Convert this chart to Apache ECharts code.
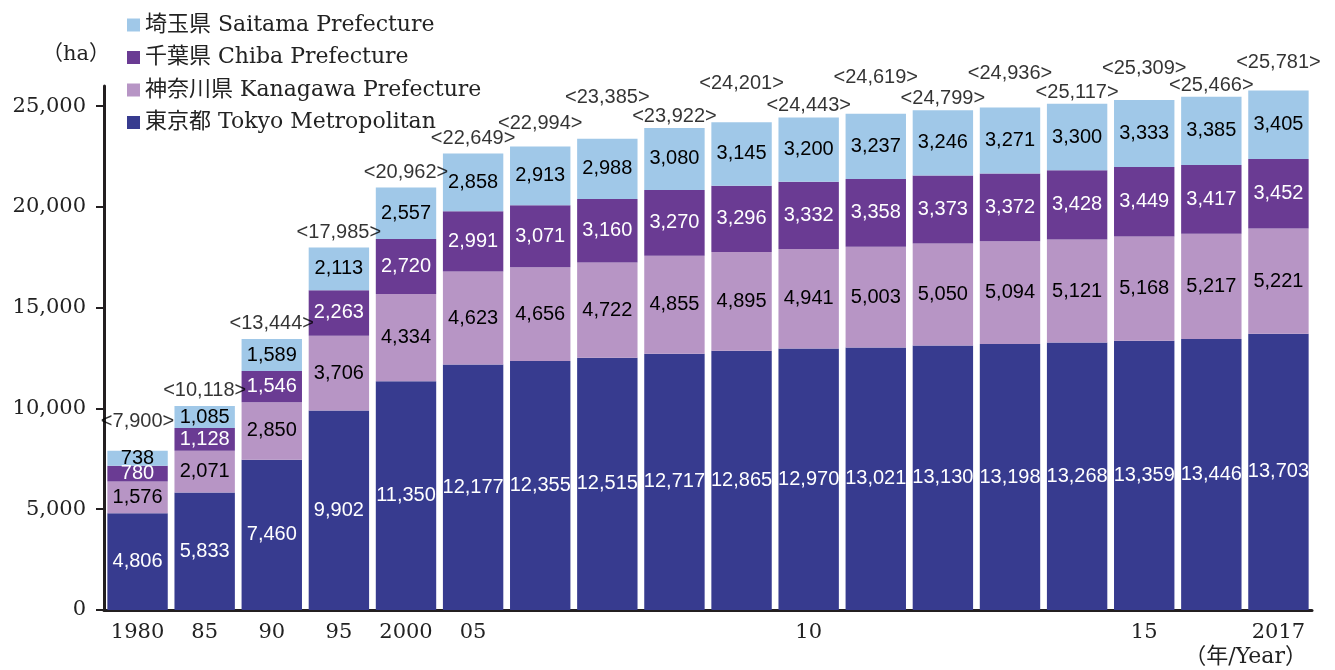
<!DOCTYPE html>
<html>
<head>
<meta charset="utf-8">
<script src="https://cdn.jsdelivr.net/npm/echarts@6/dist/echarts.min.js"></script>
<style>
  html, body { margin: 0; padding: 0; background: #fff; }
  #main { width: 1335px; height: 670px; }
</style>
</head>
<body>
<div id="main"></div>
<script>
// 年次（1980, 85, 90, 95, 2000, 05〜2017）
var years = ['1980', '1985', '1990', '1995', '2000', '2005', '2006', '2007', '2008', '2009',
             '2010', '2011', '2012', '2013', '2014', '2015', '2016', '2017'];
var xTickLabels = ['1980', '85', '90', '95', '2000', '05', '', '', '', '',
                   '10', '', '', '', '', '15', '', '2017'];
var yTickValues = [0, 5000, 10000, 15000, 20000, 25000];

var tokyo    = [4806, 5833, 7460, 9902, 11350, 12177, 12355, 12515, 12717, 12865, 12970, 13021, 13130, 13198, 13268, 13359, 13446, 13703];
var kanagawa = [1576, 2071, 2850, 3706, 4334, 4623, 4656, 4722, 4855, 4895, 4941, 5003, 5050, 5094, 5121, 5168, 5217, 5221];
var chiba    = [780, 1128, 1546, 2263, 2720, 2991, 3071, 3160, 3270, 3296, 3332, 3358, 3373, 3372, 3428, 3449, 3417, 3452];
var saitama  = [738, 1085, 1589, 2113, 2557, 2858, 2913, 2988, 3080, 3145, 3200, 3237, 3246, 3271, 3300, 3333, 3385, 3405];
var totals   = [7900, 10118, 13444, 17985, 20962, 22649, 22994, 23385, 23922, 24201, 24443, 24619, 24799, 24936, 25117, 25309, 25466, 25781];

var names = ['東京都 Tokyo Metropolitan', '神奈川県 Kanagawa Prefecture', '千葉県 Chiba Prefecture', '埼玉県 Saitama Prefecture'];

var serif = '"DejaVu Serif", "Noto Sans CJK JP", serif';
var sans = '"Liberation Sans", Arial, sans-serif';

function fmt(v) {
    return Number(v).toLocaleString('en-US');
}

function barSeries(name, data, color, labelColor) {
    return {
        name: name,
        type: 'bar',
        stack: 'total',
        barCategoryGap: '10%',
        data: data,
        itemStyle: { color: color },
        label: {
            show: true,
            position: 'inside',
            color: labelColor,
            fontFamily: sans,
            fontSize: 20,
            formatter: function (p) { return fmt(p.value); }
        }
    };
}

// 合計ラベルは重ならないよう交互にずらす
var totalData = totals.map(function (v, i) {
    var lift = i >= 8 ? 1 : 5;
    if (i === 0) lift = 19;
    else if (i === 6) lift = 13;
    else if (i >= 7 && i % 2 === 1) lift = 40 - 1.3 * i;
    return { value: v, label: { distance: lift } };
});

var chart = echarts.init(document.getElementById('main'));

var option = {
    animation: false,
    grid: { left: 104, right: 23, top: 86, bottom: 60 },
    legend: {
        data: names.slice().reverse(),
        orient: 'vertical',
        left: 122,
        top: 9,
        itemWidth: 13,
        itemHeight: 13,
        itemGap: 10.5,
        itemTextGap: 4,
        icon: 'rect',
        textStyle: { fontFamily: serif, fontSize: 22, lineHeight: 22, color: '#222' }
    },
    xAxis: {
        type: 'category',
        data: years,
        axisLine: { lineStyle: { color: '#231f20', width: 3 } },
        axisTick: { show: false },
        axisLabel: {
            interval: 0,
            margin: 12,
            fontFamily: serif,
            fontSize: 21,
            color: '#222',
            formatter: function (v, i) { return xTickLabels[i]; }
        }
    },
    yAxis: {
        type: 'value',
        min: 0,
        max: 26000,
        interval: 5000,
        splitLine: { show: false },
        axisLine: { show: true, lineStyle: { color: '#231f20', width: 3 } },
        axisTick: { show: true, length: 8, customValues: yTickValues, lineStyle: { color: '#231f20', width: 2 } },
        axisLabel: {
            margin: 18,
            fontFamily: serif,
            fontSize: 21,
            color: '#222',
            customValues: yTickValues,
            formatter: function (v) { return fmt(v); }
        }
    },
    graphic: [
        { type: 'text', left: 42, top: 44, style: { text: '（ha）', font: '21px ' + serif, fill: '#222' } },
        { type: 'text', right: 28, top: 646, style: { text: '（年/Year）', font: '22px ' + serif, fill: '#222' } }
    ],
    series: [
        barSeries(names[0], tokyo, '#373b8f', '#fff'),
        barSeries(names[1], kanagawa, '#b795c5', '#000'),
        barSeries(names[2], chiba, '#6a3b93', '#fff'),
        barSeries(names[3], saitama, '#a0c8e8', '#000'),
        {
            name: 'total',
            type: 'scatter',
            data: totalData,
            symbolSize: 1,
            itemStyle: { color: 'rgba(0,0,0,0)' },
            label: {
                show: true,
                position: 'top',
                color: '#000',
                fontFamily: sans,
                fontSize: 20,
                formatter: function (p) { return '<' + fmt(p.value) + '>'; }
            }
        }
    ]
};

chart.setOption(option);
</script>
</body>
</html>
